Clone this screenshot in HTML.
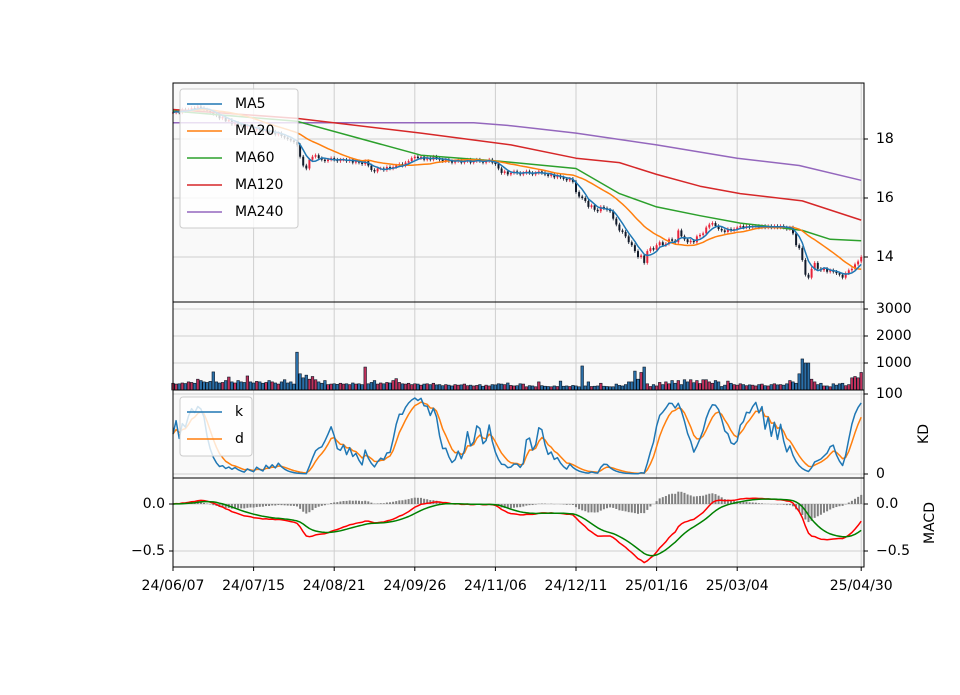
<!DOCTYPE html>
<html><head><meta charset="utf-8"><style>
html,body{margin:0;padding:0;background:#fff;}
svg text{font-family:"DejaVu Sans","Liberation Sans",sans-serif;font-size:14px;fill:#000;}
</style></head><body>
<svg id="chart" width="960" height="690" viewBox="0 0 960 690" xmlns="http://www.w3.org/2000/svg"></svg>
<script>
const closes = [
18.9,18.95,18.9,19.0,18.95,19.0,19.05,19.0,19.1,19.05,
19.0,18.95,18.9,18.85,18.8,18.7,18.75,18.6,18.65,18.5,
18.55,18.5,18.45,18.4,18.45,18.4,18.3,18.35,18.3,18.25,
18.3,18.2,18.25,18.15,18.2,18.1,18.05,18.0,17.95,17.9,
17.8,17.4,17.1,17.0,17.3,17.4,17.45,17.35,17.3,17.25,
17.3,17.35,17.3,17.25,17.3,17.3,17.25,17.3,17.2,17.25,
17.2,17.15,17.25,17.1,16.95,16.9,17.0,17.0,16.95,17.05,
17.0,17.05,17.1,17.15,17.1,17.2,17.25,17.35,17.4,17.35,
17.4,17.3,17.35,17.3,17.4,17.35,17.3,17.25,17.3,17.25,
17.2,17.25,17.3,17.2,17.25,17.3,17.2,17.25,17.3,17.25,
17.2,17.25,17.3,17.2,17.15,17.0,16.85,16.9,16.8,16.85,
16.9,16.85,16.8,16.85,16.9,16.85,16.8,16.85,16.9,16.85,
16.8,16.75,16.8,16.7,16.75,16.7,16.65,16.6,16.65,16.55,
16.2,16.05,16.0,15.9,15.7,15.75,15.6,15.55,15.7,15.65,
15.6,15.55,15.3,15.1,14.9,14.85,14.7,14.5,14.4,14.2,
14.0,14.05,13.8,14.2,14.3,14.25,14.4,14.5,14.4,14.45,
14.6,14.55,14.5,14.9,14.7,14.6,14.5,14.55,14.5,14.7,
14.75,14.8,15.0,15.1,15.15,15.05,14.95,14.9,14.85,14.95,
14.9,14.95,15.0,15.05,15.0,15.05,15.0,15.05,15.05,15.0,
15.05,15.0,15.05,15.0,15.05,15.0,15.05,15.0,14.95,15.0,
14.8,14.4,14.3,13.9,13.4,13.3,13.6,13.8,13.6,13.55,
13.6,13.5,13.55,13.5,13.45,13.4,13.3,13.45,13.55,13.6,
13.75,13.85,14.0];
const volumes = [
250,220,230,260,240,300,280,250,400,350,
300,280,320,670,300,260,280,350,480,300,
260,350,300,280,520,300,260,320,300,250,
280,350,300,260,220,300,380,260,300,220,
1400,600,450,550,400,500,380,300,250,350,
200,220,230,210,250,220,230,200,260,220,
230,200,850,230,280,350,220,260,230,280,
260,350,420,280,230,220,250,200,230,220,
180,220,230,200,250,190,200,160,200,180,
150,200,180,190,220,160,180,150,170,200,
140,180,150,200,190,230,220,200,260,170,
150,160,230,220,120,160,150,120,300,160,
140,130,120,150,130,330,140,150,130,170,
150,120,890,150,300,130,140,150,250,140,
130,120,120,220,170,150,200,300,300,700,
400,650,850,230,130,200,150,280,200,300,
230,350,250,350,200,380,300,380,270,350,
240,380,380,300,250,350,300,130,180,330,
250,200,180,230,200,160,190,180,150,200,
220,160,150,200,230,190,200,180,230,350,
300,250,600,1150,1000,1000,400,300,200,250,
150,150,120,230,180,230,250,160,200,450,
500,450,650];
const maIdx = [0,40,80,105,130,144,156,170,183,203,212,222];
const ma60 = [18.95,18.6,17.45,17.25,17.0,16.15,15.7,15.4,15.15,14.9,14.6,14.55];
const ma120Idx = [0,40,80,109,130,144,156,170,183,203,222];
const ma120 = [19.0,18.7,18.2,17.8,17.35,17.2,16.8,16.4,16.15,15.9,15.25];
const ma240Idx = [0,97,109,130,156,182,202,222];
const ma240 = [18.55,18.55,18.45,18.2,17.8,17.35,17.1,16.6];
const xTickIdx = [0,26,52,78,104,130,156,182,222];
const xTickLabels = ["24/06/07","24/07/15","24/08/21","24/09/26","24/11/06","24/12/11","25/01/16","25/03/04","25/04/30"];
const priceTicks = [14,16,18];
const volTicks = [1000,2000,3000];
const kdTicks = [0,100];
const macdTicks = [0.0,-0.5];

const svg = document.getElementById('chart');
const NS = 'http://www.w3.org/2000/svg';
function mk(tag, attrs, parent){const e=document.createElementNS(NS,tag);for(const k in attrs)e.setAttribute(k,attrs[k]);(parent||svg).appendChild(e);return e;}
const L=173,R=864;
const X = i => L + 3.1*i;
const P = {top:83,bot:302}, V={top:302,bot:390}, K={top:390,bot:478}, M={top:478,bot:567};
const yP = p => 139 + (18-p)*29.5;
const yV = v => 390 - v*0.027;
const yK = k => 474 - k*0.8;
const yM = m => 504 - m*94;
const N = closes.length;

// derived series
function sma(n){return closes.map((c,i)=>{const s=Math.max(0,i-n+1);let t=0;for(let j=s;j<=i;j++)t+=closes[j];return t/(i-s+1);});}
const ma5=sma(5), ma20=sma(20);
let kv=[],dv=[],k=50,d=50;
closes.forEach((c,i)=>{const s=Math.max(0,i-8);let lo=Infinity,hi=-Infinity;for(let j=s;j<=i;j++){lo=Math.min(lo,closes[j]);hi=Math.max(hi,closes[j]);}
 const rsv=hi>lo?(c-lo)/(hi-lo)*100:50;k=2/3*k+rsv/3;d=2/3*d+k/3;kv.push(k);dv.push(d);});
let e12=closes[0],e26=closes[0],dea=0,dif=[],deaA=[],hist=[];
closes.forEach(c=>{e12=e12+(c-e12)*2/13;e26=e26+(c-e26)*2/27;const df=e12-e26;dea=dea+(df-dea)*0.2;dif.push(df);deaA.push(dea);hist.push(df-dea);});

// panels
[[P,'price-panel'],[V,'volume-panel'],[K,'kd-panel'],[M,'macd-panel']].forEach(([p,n])=>{
 const r=mk('rect',{x:L,y:p.top,width:R-L,height:p.bot-p.top,fill:'#f9f9f9'});
 
 
 xTickIdx.forEach(i=>{const g=mk('line',{x1:X(i),x2:X(i),y1:p.top,y2:p.bot,stroke:'#cfcfcf','stroke-width':1});
  
  });
});
function hgrid(vals,f,name){vals.forEach(v=>{const g=mk('line',{x1:L,x2:R,y1:f(v),y2:f(v),stroke:'#cfcfcf','stroke-width':1});
 
 });}
hgrid(priceTicks,yP,'price-gridline');hgrid(volTicks,yV,'volume-gridline');hgrid(kdTicks,yK,'kd-gridline');hgrid(macdTicks,yM,'macd-gridline');

function line(arr,idx,f,color,name,w){const pts=arr.map((v,j)=>X(idx?idx[j]:j).toFixed(1)+','+f(v).toFixed(1)).join(' ');
 const e=mk('polyline',{points:pts,fill:'none',stroke:color,'stroke-width':w||1.5,'stroke-linejoin':'round'});
 
 return e;}

// candles
closes.forEach((c,i)=>{const o=i?closes[i-1]:c;const up=c>=o;const col=up?'#e8233a':'#111a2a';
 const hi=Math.max(o,c)+0.06,lo=Math.min(o,c)-0.06;
 const w=mk('line',{x1:X(i),x2:X(i),y1:yP(hi),y2:yP(lo),stroke:col,'stroke-width':0.8});
 
 
 const b=mk('rect',{x:X(i)-1,y:Math.min(yP(o),yP(c)),width:2,height:Math.max(1,Math.abs(yP(o)-yP(c))),fill:col});
 
 });
line(ma240,ma240Idx,yP,'#9467bd','ma240-line');
line(ma120,ma120Idx,yP,'#d62728','ma120-line');
line(ma60,maIdx,yP,'#2ca02c','ma60-line');
line(ma20,null,yP,'#ff7f0e','ma20-line');
line(ma5,null,yP,'#1f77b4','ma5-line');

// volume
volumes.forEach((v,i)=>{const up=closes[i]>=(i?closes[i-1]:closes[i]);
 const b=mk('rect',{x:X(i)-1.3,y:yV(v),width:2.6,height:390-yV(v),fill:up?'#c0305a':'#2a6fa8',stroke:'#0b1726','stroke-width':0.6});
 
 });

// KD
line(dv,null,yK,'#ff7f0e','d-line');
line(kv,null,yK,'#1f77b4','k-line');

// MACD
hist.forEach((h,i)=>{const b=mk('rect',{x:X(i)-1,y:Math.min(yM(0),yM(h)),width:2,height:Math.abs(yM(h)-yM(0)),fill:'#808080'});
 
 });
line(dif,null,yM,'#ff0000','macd-dif-line');
line(deaA,null,yM,'#008000','macd-dea-line');

// clip overflow by masking outside with white
// panel borders
[P,V,K,M].forEach(p=>{const r=mk('rect',{x:L,y:p.top,width:R-L,height:p.bot-p.top,fill:'none',stroke:'#000','stroke-width':1});
 
 });

function txt(s,x,y,anchor,name,extra){const t=mk('text',Object.assign({x:x,y:y,'text-anchor':anchor||'start','dominant-baseline':'middle'},extra||{}));t.textContent=s;
 
 return t;}
function rtick(v,f,lab,name){const y=f(v);mk('line',{x1:R,x2:R+4,y1:y,y2:y,stroke:'#000'});txt(lab,R+12,y,'start',name);}
priceTicks.forEach(v=>rtick(v,yP,String(v),'price-tick-label'));
volTicks.forEach(v=>rtick(v,yV,String(v),'volume-tick-label'));
kdTicks.forEach(v=>rtick(v,yK,String(v),'kd-tick-label'));
macdTicks.forEach(v=>{const y=yM(v);const lab=v===0?'0.0':'\u22120.5';
 mk('line',{x1:R,x2:R+4,y1:y,y2:y,stroke:'#000'});txt(lab,R+12,y,'start','macd-right-tick-label');
 mk('line',{x1:L-4,x2:L,y1:y,y2:y,stroke:'#000'});txt(lab,L-8,y,'end','macd-left-tick-label');});
xTickIdx.forEach((i,j)=>{mk('line',{x1:X(i),x2:X(i),y1:567,y2:571,stroke:'#000'});txt(xTickLabels[j],X(i),586,'middle','x-tick-label');});
txt('KD',924,434,'middle','kd-axis-title',{transform:'rotate(-90 924 434)'});
txt('MACD',930,523,'middle','macd-axis-title',{transform:'rotate(-90 930 523)'});

// legends
function legend(items,x,y,w,h,name){const g=mk('g',{});
 
 mk('rect',{x:x,y:y,width:w,height:h,rx:3,fill:'#ffffff','fill-opacity':0.8,stroke:'#cccccc'},g);
 items.forEach((it,j)=>{const yy=y+15+j*27;mk('line',{x1:x+7,x2:x+42,y1:yy,y2:yy,stroke:it[1],'stroke-width':1.5},g);
  const t=mk('text',{x:x+55,y:yy,'dominant-baseline':'middle'},g);t.textContent=it[0];
  
  });}
legend([['MA5','#1f77b4'],['MA20','#ff7f0e'],['MA60','#2ca02c'],['MA120','#d62728'],['MA240','#9467bd']],180,89,118,139,'price-legend');
legend([['k','#1f77b4'],['d','#ff7f0e']],180,397,72,59,'kd-legend');
</script>
</body></html>
